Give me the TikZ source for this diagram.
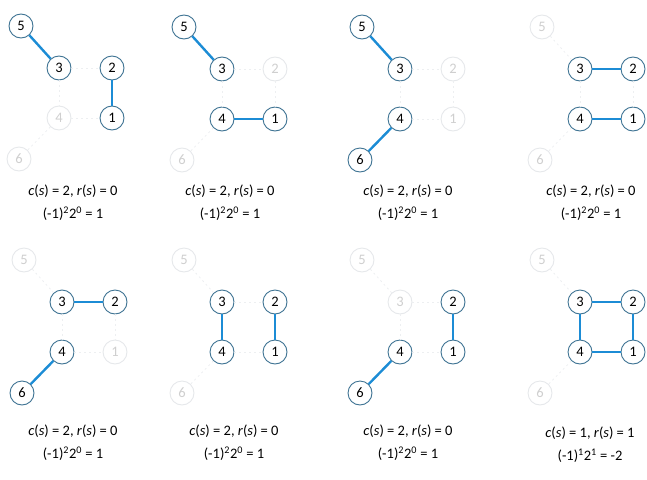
\documentclass[tikz,border=0pt]{standalone}
\usepackage{fontspec}
\setmainfont{Carlito}
\usetikzlibrary{calc}
\definecolor{ringblue}{HTML}{3E7393}
\definecolor{edgeblue}{HTML}{1C8CD5}
\definecolor{paleline}{HTML}{E6E8EB}
\definecolor{paletext}{HTML}{CFCFCF}

\begin{document}
\begin{tikzpicture}[x=1pt,y=-1pt,
  vtx/.style={circle,draw=ringblue,line width=.9pt,fill=white,minimum size=24pt,inner sep=0pt,font=\fontsize{14.5}{14}\selectfont},
  faded/.style={draw=paleline,text=paletext},
  live/.style={edgeblue,line width=2.4pt},
  idle/.style={paleline!70,line width=.8pt,dash pattern=on 2pt off 3pt},
  lbl/.style={font=\fontsize{14.5}{16}\selectfont}]
\useasboundingbox (0,0) rectangle (647,479);
% one panel per subgraph: node 3 position, label position, lit nodes, pale nodes, chosen edges, c(s), r(s), value
\foreach \px/\py/\tx/\ty/\shown/\pale/\pairs/\cc/\rr/\res [count=\k] in {
  59/68/73/191/{5,3,2,1}/{4,6}/{5/3,2/1}/2/0/1,
  222/69/230/191/{5,3,4,1}/{2,6}/{5/3,4/1}/2/0/1,
  400/69/408/191/{5,3,4,6}/{2,1}/{5/3,4/6}/2/0/1,
  580/69/591/191/{3,2,4,1}/{5,6}/{3/2,4/1}/2/0/1,
  62/302/73/431/{3,2,4,6}/{5,1}/{3/2,4/6}/2/0/1,
  222/302/234/431/{3,4,2,1}/{5,6}/{3/4,2/1}/2/0/1,
  400/302/408/431/{2,1,4,6}/{5,3}/{2/1,4/6}/2/0/1,
  580/302/590/433/{3,2,1,4}/{5,6}/{3/2,2/1,1/4,4/3}/1/1/-2}{
  \foreach \v/\dx/\dy in {5/-38/-42,3/0/0,2/53/0,1/53/50,4/0/50,6/-40/91}
    \coordinate (c\k-\v) at (\px+\dx,\py+\dy);
  \foreach \v in \pale \node[vtx,faded] (p\k-\v) at (c\k-\v) {\v};
  \foreach \v in \shown \node[vtx] (p\k-\v) at (c\k-\v) {\v};
  \foreach \a/\b in {5/3,3/2,2/1,3/4,4/1,4/6} \draw[idle] (p\k-\a) -- (p\k-\b);
  \foreach \a/\b in \pairs \draw[live] (p\k-\a) -- (p\k-\b);
  \node[lbl] (t\k) at (\tx,\ty) {\textit{c}(\textit{s}) = \cc, \textit{r}(\textit{s}) = \rr};
  \node[lbl] (u\k) at (\tx,\ty+23) {(-1)\textsuperscript{\cc}2\textsuperscript{\rr} = \res};}
\end{tikzpicture}
\end{document}
